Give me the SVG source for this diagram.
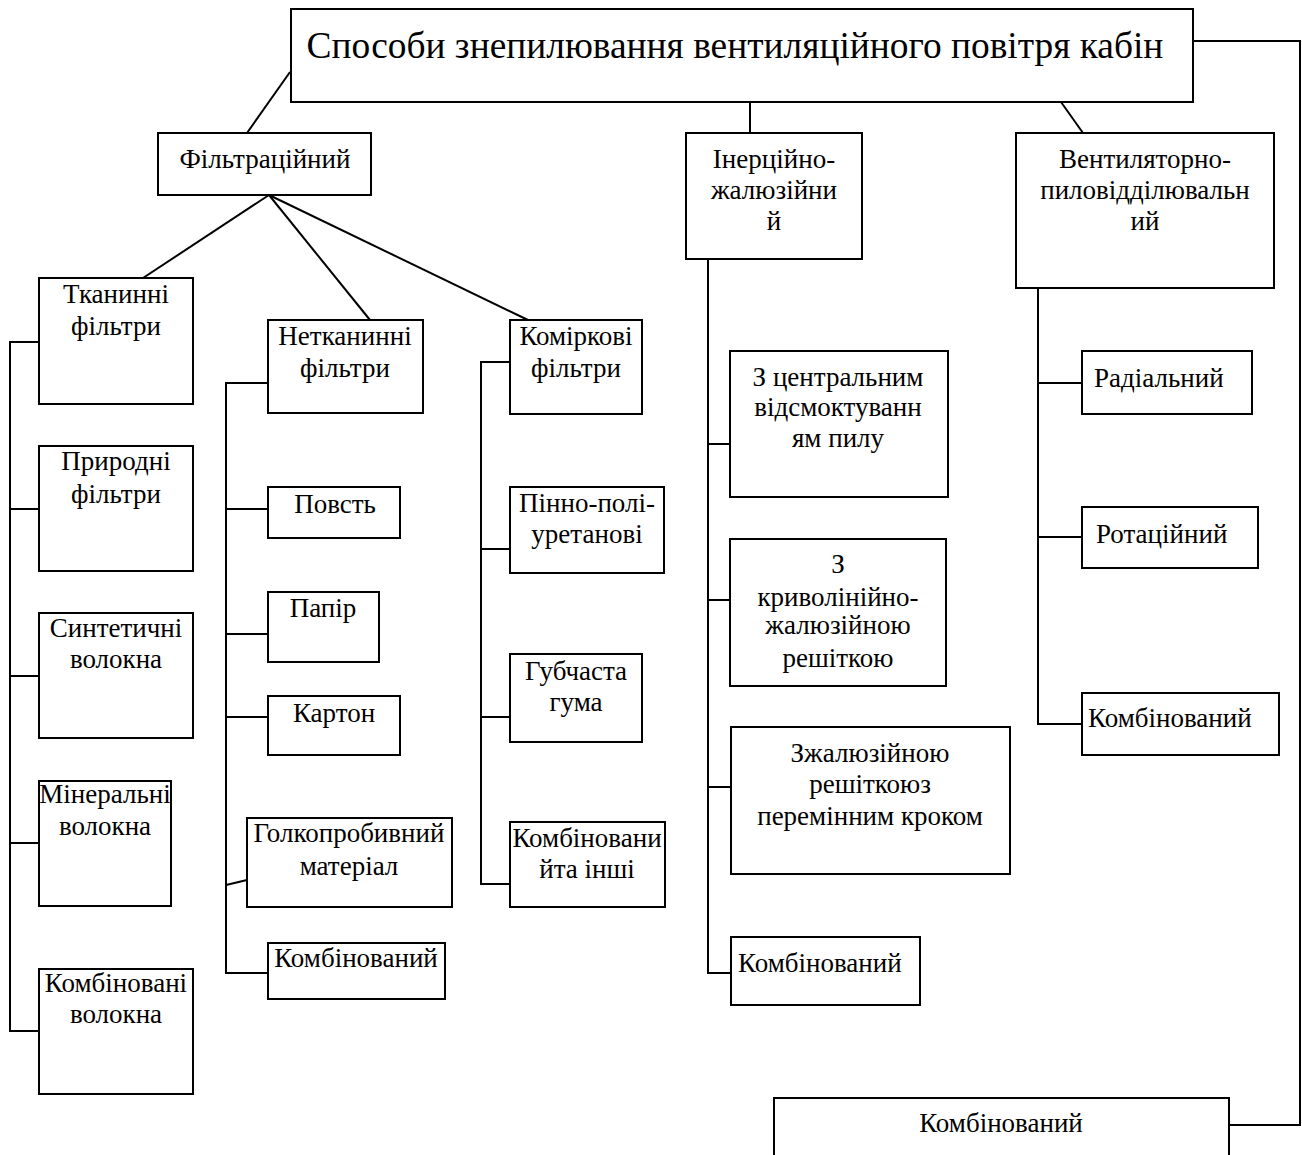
<svg xmlns="http://www.w3.org/2000/svg" width="1302" height="1155" viewBox="0 0 1302 1155">
<style>
  rect { fill: #fff; stroke: #000; stroke-width: 2; }
  .c line, .c polyline { stroke: #000; stroke-width: 2; fill: none; }
  text { font-family: "Liberation Serif", "Times New Roman", serif; font-size: 27px; fill: #000; text-anchor: middle; }
  .t { font-size: 37.4px; }
  .l { text-anchor: start; }
</style>
<rect x="0" y="0" width="1302" height="1155" style="stroke:none"/>
<g class="c" id="connectors">
  <line x1="290" y1="72" x2="247" y2="133"/>
  <line x1="750" y1="102" x2="750" y2="133"/>
  <line x1="1061" y1="102" x2="1083" y2="133"/>
  <polyline points="1193,41 1300,41 1300,1125 1229,1125"/>
  <line x1="269" y1="195" x2="143" y2="278"/>
  <line x1="269" y1="195" x2="370" y2="320"/>
  <line x1="269" y1="195" x2="528" y2="320"/>
  <polyline points="39,342 10,342 10,1031 39,1031"/>
  <line x1="10" y1="509" x2="39" y2="509"/>
  <line x1="10" y1="676" x2="39" y2="676"/>
  <line x1="10" y1="843" x2="39" y2="843"/>
  <polyline points="268,383 226,383 226,973 268,973"/>
  <line x1="226" y1="509" x2="268" y2="509"/>
  <line x1="226" y1="634" x2="268" y2="634"/>
  <line x1="226" y1="717" x2="268" y2="717"/>
  <line x1="226" y1="885" x2="247" y2="880"/>
  <polyline points="510,362 481,362 481,884 510,884"/>
  <line x1="481" y1="549" x2="510" y2="549"/>
  <line x1="481" y1="717" x2="510" y2="717"/>
  <polyline points="708,259 708,973 731,973"/>
  <line x1="708" y1="444" x2="730" y2="444"/>
  <line x1="708" y1="600" x2="730" y2="600"/>
  <line x1="708" y1="787" x2="731" y2="787"/>
  <polyline points="1038,288 1038,724 1082,724"/>
  <line x1="1038" y1="383" x2="1082" y2="383"/>
  <line x1="1038" y1="537" x2="1082" y2="537"/>
</g>
<g id="root"><rect x="291" y="9" width="902" height="93"/><text class="t" x="735" y="58">Способи знепилювання вентиляційного повітря кабін</text></g>
<g id="filtr"><rect x="158" y="133" width="213" height="62"/><text x="265" y="168">Фільтраційний</text></g>
<g id="inerc"><rect x="686" y="133" width="176" height="126"/><text x="774" y="168">Інерційно-</text><text x="774" y="199">жалюзійни</text><text x="774" y="230">й</text></g>
<g id="vent"><rect x="1016" y="133" width="258" height="155"/><text x="1145" y="168">Вентиляторно-</text><text x="1145" y="199">пиловідділювальн</text><text x="1145" y="230">ий</text></g>
<g id="tkan"><rect x="39" y="278" width="154" height="126"/><text x="116" y="303">Тканинні</text><text x="116" y="335">фільтри</text></g>
<g id="pryr"><rect x="39" y="446" width="154" height="125"/><text x="116" y="470">Природні</text><text x="116" y="503">фільтри</text></g>
<g id="synt"><rect x="39" y="613" width="154" height="125"/><text x="116" y="637">Синтетичні</text><text x="116" y="668">волокна</text></g>
<g id="miner"><rect x="39" y="781" width="132" height="125"/><text x="105" y="803">Мінеральні</text><text x="105" y="835">волокна</text></g>
<g id="kombv"><rect x="39" y="969" width="154" height="125"/><text x="116" y="992">Комбіновані</text><text x="116" y="1023">волокна</text></g>
<g id="netk"><rect x="268" y="320" width="155" height="93"/><text x="345" y="345">Нетканинні</text><text x="345" y="377">фільтри</text></g>
<g id="povst"><rect x="268" y="487" width="132" height="51"/><text x="335" y="513">Повсть</text></g>
<g id="papir"><rect x="268" y="592" width="111" height="70"/><text x="323" y="617">Папір</text></g>
<g id="karton"><rect x="268" y="696" width="132" height="59"/><text x="334" y="722">Картон</text></g>
<g id="golk"><rect x="247" y="818" width="205" height="89"/><text x="349" y="842">Голкопробивний</text><text x="349" y="875">матеріал</text></g>
<g id="kombn"><rect x="268" y="943" width="177" height="56"/><text x="356" y="967">Комбінований</text></g>
<g id="komir"><rect x="510" y="320" width="132" height="94"/><text x="576" y="345">Коміркові</text><text x="576" y="377">фільтри</text></g>
<g id="pinno"><rect x="510" y="487" width="154" height="86"/><text x="587" y="512">Пінно-полі-</text><text x="587" y="543">уретанові</text></g>
<g id="gubch"><rect x="510" y="654" width="132" height="88"/><text x="576" y="680">Губчаста</text><text x="576" y="711">гума</text></g>
<g id="kombi"><rect x="510" y="822" width="155" height="85"/><text x="587" y="847">Комбіновани</text><text x="587" y="878">йта інші</text></g>
<g id="centr"><rect x="730" y="351" width="218" height="146"/><text x="838" y="386">З центральним</text><text x="838" y="416">відсмоктуванн</text><text x="838" y="447">ям пилу</text></g>
<g id="kryvo"><rect x="730" y="539" width="216" height="147"/><text x="838" y="573">З</text><text x="838" y="606">криволінійно-</text><text x="838" y="634">жалюзійною</text><text x="838" y="667">решіткою</text></g>
<g id="zhal"><rect x="731" y="727" width="279" height="147"/><text x="870" y="762">Зжалюзійною</text><text x="870" y="793">решіткоюз</text><text x="870" y="825">перемінним кроком</text></g>
<g id="kombin"><rect x="731" y="937" width="189" height="68"/><text class="l" x="738" y="972">Комбінований</text></g>
<g id="radial"><rect x="1082" y="351" width="170" height="63"/><text class="l" x="1094" y="387">Радіальний</text></g>
<g id="rotac"><rect x="1082" y="507" width="176" height="61"/><text class="l" x="1096" y="543">Ротаційний</text></g>
<g id="kombvent"><rect x="1082" y="693" width="197" height="62"/><text class="l" x="1088" y="727">Комбінований</text></g>
<g id="kombbot"><rect x="774" y="1098" width="455" height="70"/><text x="1001" y="1132">Комбінований</text></g>
</svg>
